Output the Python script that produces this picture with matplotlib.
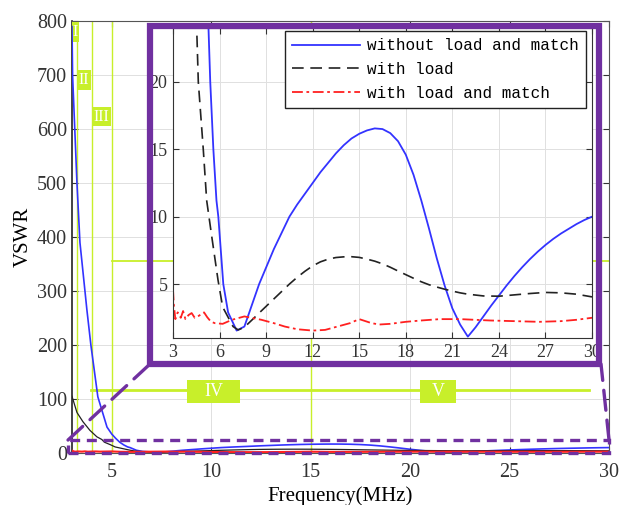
import numpy as np
import matplotlib.pyplot as plt
from matplotlib.patches import Rectangle, ConnectionPatch

plt.rcParams['font.family'] = ['Liberation Serif', 'DejaVu Serif']

# without load and match
f_blue = [3.0, 3.03, 3.25, 3.4, 3.75, 3.95, 4.3, 4.76, 5.0, 5.2, 5.4, 5.6, 5.8, 5.92, 6.24, 6.55,
          7.1, 7.6, 8.55, 9.5, 10.5, 11.0, 11.5, 12.0, 12.5, 13.0, 13.5, 14.0, 14.5, 15.0, 15.5,
          16.0, 16.5, 17.0, 17.5, 18.0, 18.5, 19.0, 19.5, 20.0, 20.5, 21.0, 21.5, 22.0, 22.5,
          23.0, 23.5, 24.0, 24.5, 25.0, 25.5, 26.0, 26.5, 27.0, 27.5, 28.0, 28.5, 29.0, 29.5, 30.0]
v_blue = [790, 700, 500, 390, 265, 200, 104, 48, 35, 27, 20, 15, 11.2, 10, 5, 2.9,
          1.55, 1.85, 5, 7.6, 10, 10.9, 11.7, 12.5, 13.3, 14.0, 14.7, 15.3, 15.8, 16.15, 16.4,
          16.55, 16.5, 16.2, 15.6, 14.6, 13.1, 11.2, 9.1, 6.9, 4.9, 3.2, 2.0, 1.1, 1.8,
          2.6, 3.4, 4.15, 4.9, 5.6, 6.25, 6.85, 7.4, 7.9, 8.35, 8.75, 9.1, 9.45, 9.75, 10.0]

# with load
f_black = [3.0, 3.25, 3.55, 3.9, 4.25, 4.5, 4.63, 4.95, 5.17, 5.5, 5.9, 6.2, 6.87, 7.2, 7.6, 8.1,
           8.5, 9.0, 9.5, 10.0, 10.5, 11.0, 11.5, 12.0, 12.5, 13.0, 13.5, 14.0, 14.5, 15.0, 15.5,
           16.0, 16.5, 17.0, 17.5, 18.0, 18.5, 19.0, 19.5, 20.0, 20.5, 21.0, 21.5, 22.0, 23.0,
           24.0, 25.0, 26.0, 27.0, 28.0, 29.0, 30.0]
v_black = [105, 75, 58, 42, 30, 25, 20, 15, 11.2, 8.5, 5.3, 3.3, 1.85, 1.6, 1.8, 2.35,
           2.8, 3.35, 3.9, 4.45, 5.0, 5.5, 5.95, 6.35, 6.65, 6.85, 6.97, 7.02, 7.03, 6.98, 6.85,
           6.7, 6.5, 6.25, 5.97, 5.7, 5.43, 5.17, 4.95, 4.78, 4.62, 4.48, 4.35, 4.25, 4.12,
           4.1, 4.2, 4.3, 4.38, 4.35, 4.25, 4.05]

# with load and match
f_red = [3.0, 3.05, 3.15, 3.3, 3.5, 3.65, 3.8, 4.0, 4.2, 4.4, 4.6, 4.8, 5.0, 5.2, 5.45, 5.7,
         6.2, 6.8, 7.6, 8.7, 9.5, 10.2, 11.0, 12.0, 12.8, 13.6, 14.4, 15.0, 15.4, 15.8, 16.3,
         17.0, 18.0, 19.0, 20.2, 21.5, 23.4, 25.0, 26.6, 28.0, 29.0, 30.0]
v_red = [4.6, 3.5, 2.4, 2.9, 2.5, 3.0, 2.4, 2.7, 2.85, 2.5, 2.6, 2.75, 2.9, 2.55, 2.2, 2.1,
         2.05, 2.35, 2.6, 2.35, 2.1, 1.85, 1.65, 1.55, 1.6, 1.85, 2.1, 2.4, 2.25, 2.1, 2.0,
         2.05, 2.2, 2.3, 2.4, 2.4, 2.3, 2.25, 2.2, 2.25, 2.35, 2.5]

labels = ['without load and match', 'with load', 'with load and match']
region_names = ['I', 'II', 'III', 'IV', 'V']

green = '#c8ef2a'
purple = '#7030a0'
blue = '#3333ff'

fig = plt.figure(figsize=(6.19, 5.05), dpi=100)
ax = fig.add_axes([0.1163, 0.103, 0.8676, 0.855])

# green region marks (behind)
for xv in [3.25, 4.0, 5.0, 15.0]:
    ax.axvline(xv, color=green, lw=1.0, zorder=1)
ax.plot([5.0, 30.0], [355, 355], color=green, lw=1.3, zorder=1)
ax.plot([3.95, 29.0], [117, 117], color=green, lw=2.0, zorder=1)
boxes = [(3.0, 761, 0.35, 37, 11.5), (3.25, 672, 0.7, 37, 11.5), (4.0, 605, 0.96, 36, 11.5),
         (8.8, 93, 2.65, 42, 13), (20.5, 93, 1.8, 42, 13)]
for name, (bx, by, bw, bh, fs) in zip(region_names, boxes):
    ax.add_patch(Rectangle((bx, by), bw, bh, facecolor=green, edgecolor='none', zorder=3))
    ax.text(bx + bw / 2, by + bh / 2, name, color='white', fontsize=fs,
            ha='center', va='center', zorder=4)

ax.plot(f_blue, v_blue, color=blue, lw=1.2, zorder=5)
ax.plot(f_black, v_black, color='#222222', lw=0.9, zorder=5)
ax.plot(f_red, v_red, color='#ff2020', lw=1.5, zorder=5)

ax.set_xlim(3, 30)
ax.set_ylim(0, 800)
ax.set_xticks([5, 10, 15, 20, 25, 30])
ax.set_yticks(range(0, 801, 100))
ax.grid(True, color='#e0e0e0', lw=0.7)
ax.set_axisbelow(True)
ax.tick_params(direction='in', top=True, right=True, labelsize=14.5, length=4, colors='#333333')
ax.tick_params(axis='x', pad=7)
for sp in ax.spines.values():
    sp.set_color('#555555')
ax.spines['left'].set_color('#222222')
ax.spines['left'].set_linewidth(1.2)
ax.set_xlabel('Frequency(MHz)', fontsize=15, labelpad=3)
ax.set_ylabel('VSWR', fontsize=15, labelpad=3)

# zoom window on the main axes
ax.add_patch(Rectangle((2.8, 0), 27.2, 24, fill=False, edgecolor=purple, lw=2.4,
                       ls=(0, (3, 2)), clip_on=False, zorder=6))

# inset
axi = fig.add_axes([0.2795, 0.3307, 0.6769, 0.6139])
axi.plot(f_blue, v_blue, color=blue, lw=1.3, label=labels[0])
axi.plot(f_black, v_black, color='#222222', lw=1.2, ls=(0, (7, 4)), label=labels[1])
axi.plot(f_red, v_red, color='#ff2020', lw=1.3, ls=(0, (6, 2, 1.5, 2)), label=labels[2])
axi.set_xlim(3, 30)
axi.set_ylim(1, 24)
axi.set_xticks(range(3, 31, 3))
axi.set_yticks([5, 10, 15, 20])
axi.grid(True, color='#e0e0e0', lw=0.7)
axi.tick_params(direction='in', top=True, right=True, labelsize=13, length=4, colors='#333333', pad=4)
for sp in axi.spines.values():
    sp.set_color('#333333')
leg = axi.legend(loc='upper right', bbox_to_anchor=(0.985, 0.99), borderaxespad=0,
                 prop={'family': 'Liberation Mono', 'size': 11.5}, handlelength=4.3,
                 fancybox=False, edgecolor='#222222', framealpha=1, labelspacing=0.55,
                 handletextpad=0.4, borderpad=0.45)
leg.get_frame().set_linewidth(1.0)

# purple frame round the inset
W, H = 619.0, 505.0
px0, px1, py0, py1 = 150, 599, 26, 364
fig.add_artist(Rectangle((px0 / W, 1 - py1 / H), (px1 - px0) / W, (py1 - py0) / H,
                         transform=fig.transFigure, fill=False, edgecolor=purple, lw=4.5,
                         zorder=10))
for (dx, dy), (fx, fy) in [((2.8, 24), (px0, py1)), ((30.0, 24), (px1 + 2, py1))]:
    con = ConnectionPatch(xyA=(dx, dy), coordsA=ax.transData,
                          xyB=(fx / W, 1 - fy / H), coordsB=fig.transFigure,
                          color=purple, lw=2.4, ls=(0, (6, 3)), zorder=10)
    fig.add_artist(con)

fig.savefig('out.png', dpi=100)
